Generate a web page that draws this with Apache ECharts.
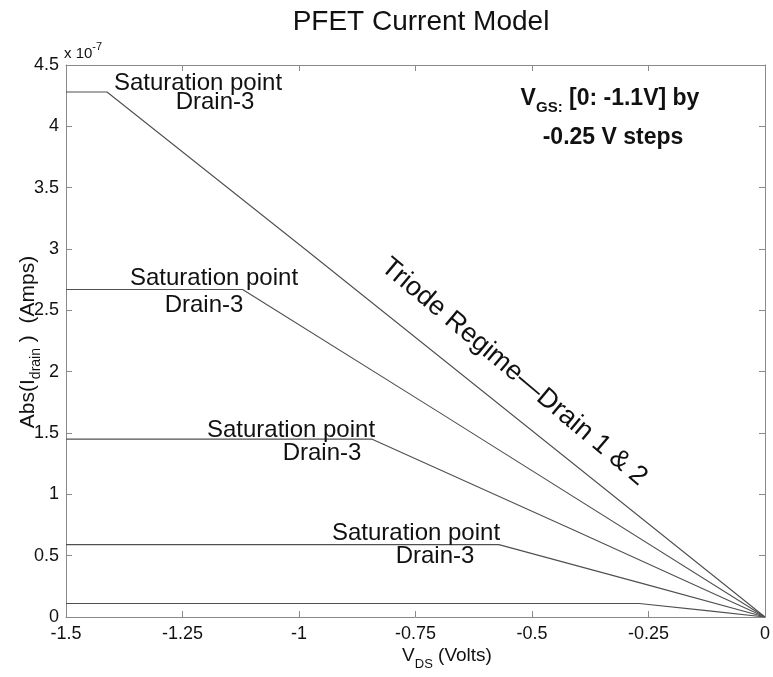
<!DOCTYPE html>
<html><head><meta charset="utf-8">
<script src="https://cdn.jsdelivr.net/npm/echarts@6/dist/echarts.min.js"></script>
<style>html,body{margin:0;padding:0;background:#fff}#c{width:773px;height:677px}</style>
</head><body><div id="c"></div>
<script>
// Axis ticks
const xTickValues = [-1.5, -1.25, -1, -0.75, -0.5, -0.25, 0];
const yTickValues = [0, 0.5, 1, 1.5, 2, 2.5, 3, 3.5, 4, 4.5];
// Curves (V_DS in volts, |I_drain| in units of 1e-7 A)
const vgs1V = [-1.5, -1.412, -0.984, 0];
const vgs1I = [4.28, 4.28, 2.99, 0];
const vgs2V = [-1.5, -1.121, -0.7, 0];
const vgs2I = [2.67, 2.67, 1.67, 0];
const vgs3V = [-1.5, -0.843, -0.4, 0];
const vgs3I = [1.45, 1.45, 0.69, 0];
const vgs4V = [-1.5, -0.571, -0.25, 0];
const vgs4I = [0.59, 0.59, 0.26, 0];
const vgs5V = [-1.5, -0.27, -0.12, 0];
const vgs5I = [0.11, 0.11, 0.05, 0];

const curves = [[vgs1V, vgs1I], [vgs2V, vgs2I], [vgs3V, vgs3I], [vgs4V, vgs4I], [vgs5V, vgs5I]];
const FONT = '"Liberation Sans", Arial, Helvetica, sans-serif';
const axisCol = '#8a8a8a';

const chart = echarts.init(document.getElementById('c'), null, {renderer: 'canvas'});

function txt(text, x, y, size, opts) {
  opts = opts || {};
  return {
    type: 'text', x: x, y: y, rotation: opts.rotation || 0, z: 100,
    style: Object.assign({
      text: text, fill: '#111', fontFamily: FONT, fontSize: size,
      fontWeight: opts.bold ? 'bold' : 'normal',
      align: opts.align || 'center', verticalAlign: 'middle'
    }, opts.style || {})
  };
}

function axisBase() {
  return {
    axisLine: {show: true, onZero: false, lineStyle: {color: axisCol, width: 1}},
    axisTick: {show: true, inside: true, length: 6, lineStyle: {color: axisCol}},
    splitLine: {show: false}
  };
}

chart.setOption({
  animation: false,
  backgroundColor: '#fff',
  grid: {left: 66, right: 6, top: 65, bottom: 60, containLabel: false},
  xAxis: [
    Object.assign(axisBase(), {type: 'value', min: -1.5, max: 0, interval: 0.25, position: 'bottom',
      axisLabel: {show: true, color: '#111', fontSize: 18, fontFamily: FONT, margin: 8,
        showMinLabel: true, showMaxLabel: true}}),
    Object.assign(axisBase(), {type: 'value', min: -1.5, max: 0, interval: 0.25, position: 'top',
      axisLabel: {show: false}})
  ],
  yAxis: [
    Object.assign(axisBase(), {type: 'value', min: 0, max: 4.5, interval: 0.5, position: 'left',
      axisLabel: {show: true, color: '#111', fontSize: 18, fontFamily: FONT, margin: 7,
        showMinLabel: true, showMaxLabel: true}}),
    Object.assign(axisBase(), {type: 'value', min: 0, max: 4.5, interval: 0.5, position: 'right',
      axisLabel: {show: false}})
  ],
  series: curves.map(function (c, i) {
    return {
      type: 'line', name: 'VGS' + i, xAxisIndex: 0, yAxisIndex: 0,
      data: c[0].map(function (v, j) { return [v, c[1][j]]; }),
      showSymbol: false, symbol: 'none', smooth: false,
      lineStyle: {color: '#505050', width: 1.1}
    };
  }),
  graphic: [
    txt('PFET Current Model', 421, 22, 28),
    {type: 'text', x: 64, y: 51, z: 100, style: {text: '{a|x 10}{b|-7}', fontFamily: FONT, fill: '#111', align: 'left', verticalAlign: 'middle',
      rich: {a: {fontSize: 15, fontFamily: FONT, lineHeight: 20, verticalAlign: 'bottom'}, b: {fontSize: 11, fontFamily: FONT, lineHeight: 11, verticalAlign: 'top'}}}},
    // y-axis name
    {type: 'text', x: 28, y: 342, rotation: Math.PI / 2, z: 100, style: {text: '{a|Abs(I}{s|drain}{a| )  (Amps)}', fontFamily: FONT, fill: '#111', align: 'center', verticalAlign: 'middle',
      rich: {a: {fontSize: 21, fontFamily: FONT, lineHeight: 30, verticalAlign: 'middle'}, s: {fontSize: 14, fontFamily: FONT, lineHeight: 14, verticalAlign: 'bottom'}}}},
    // x-axis name
    {type: 'text', x: 447, y: 656, z: 100, style: {text: '{a|V}{s|DS}{a| (Volts)}', fontFamily: FONT, fill: '#111', align: 'center', verticalAlign: 'middle',
      rich: {a: {fontSize: 19, fontFamily: FONT, lineHeight: 30, verticalAlign: 'middle'}, s: {fontSize: 13, fontFamily: FONT, lineHeight: 13, verticalAlign: 'bottom'}}}},
    // VGS annotation
    {type: 'text', x: 610, y: 99, z: 100, style: {text: '{a|V}{s|GS:}{a| [0: -1.1V] by}', fontFamily: FONT, fill: '#111', align: 'center', verticalAlign: 'middle',
      rich: {a: {fontSize: 23, fontWeight: 'bold', fontFamily: FONT, lineHeight: 32, verticalAlign: 'middle'}, s: {fontSize: 15, fontWeight: 'bold', fontFamily: FONT, lineHeight: 15, verticalAlign: 'bottom'}}}},
    txt('-0.25 V steps', 613, 138, 23, {bold: true}),
    // Saturation annotations
    txt('Saturation point', 198, 83, 24), txt('Drain-3', 215, 102, 24),
    txt('Saturation point', 214, 278, 24), txt('Drain-3', 204, 305, 24),
    txt('Saturation point', 291, 430, 24), txt('Drain-3', 322, 453, 24),
    txt('Saturation point', 416, 533, 24), txt('Drain-3', 435, 556, 24),
    // Triode text
    txt('Triode Regime\u2014Drain 1 & 2', 514, 372, 27, {rotation: -40 * Math.PI / 180})
  ]
});
</script>
</body></html>
